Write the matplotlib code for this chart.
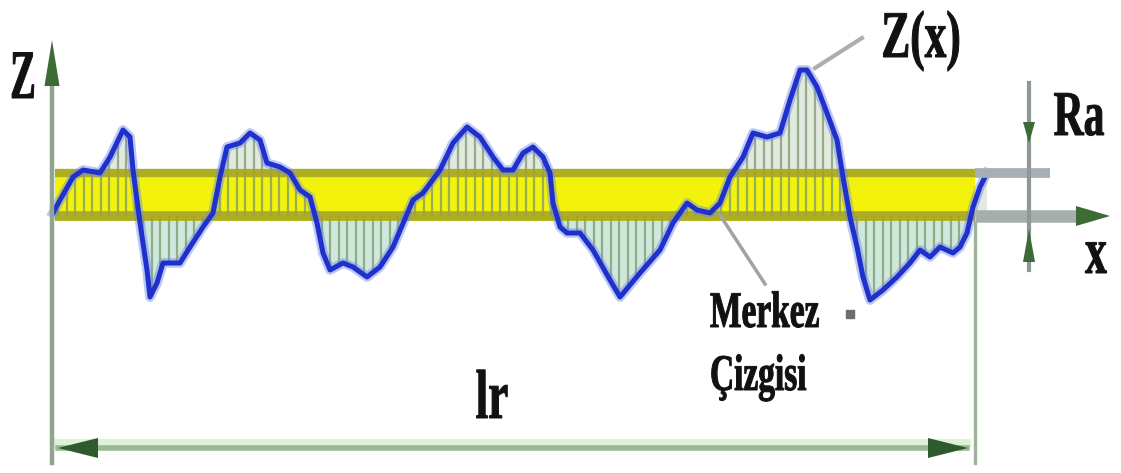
import numpy as np
import matplotlib
matplotlib.use("Agg")
import matplotlib.pyplot as plt
from matplotlib import font_manager as fm
from matplotlib.patheffects import AbstractPathEffect
from matplotlib.transforms import Affine2D

# profile trace (horizontal position, height), drawing units
profile_x = [53, 60, 73, 83, 100, 110, 123, 130, 133, 140, 147, 150, 157, 163, 180, 190,
             203, 213, 220, 227, 240, 250, 260, 267, 280, 290, 300, 310, 317, 323, 330, 343,
             353, 367, 380, 393, 413, 423, 440, 453, 467, 480, 493, 503, 513, 523, 533, 543,
             550, 553, 560, 567, 580, 593, 610, 620, 640, 660, 673, 687, 697, 710, 720, 730,
             743, 753, 767, 780, 790, 800, 807, 817, 827, 837, 843, 850, 857, 863, 870, 883,
             897, 910, 920, 930, 940, 953, 960, 967, 973, 980, 987]
profile_z = [213, 200, 177, 170, 173, 157, 130, 137, 170, 223, 270, 297, 283, 263, 263, 247,
             227, 213, 177, 147, 143, 133, 140, 163, 167, 173, 190, 197, 223, 253, 270, 263,
             267, 277, 267, 247, 200, 193, 170, 143, 127, 137, 157, 170, 170, 153, 147, 157,
             173, 203, 227, 233, 233, 250, 280, 297, 273, 250, 223, 203, 210, 213, 203, 177,
             157, 133, 137, 133, 100, 70, 70, 87, 113, 140, 177, 217, 247, 277, 300, 290,
             277, 263, 250, 257, 247, 253, 247, 233, 207, 187, 173]

center_line = 216      # mean line (x axis)
ra_line = 173          # mean + Ra
x_start, x_end = 52, 975
lr_level = 448

W, H = 1121, 473

serif_bold = fm.FontProperties(fname=fm.findfont(
    fm.FontProperties(family=["Liberation Serif", "DejaVu Serif"], weight="bold")))


class Squeeze(AbstractPathEffect):
    """Narrow the glyphs horizontally around the text anchor, with a thin outline."""

    def __init__(self, ax, x, sx, stroke=0.7):
        super().__init__()
        self.ax, self.x, self.sx, self.stroke = ax, x, sx, stroke

    def draw_path(self, renderer, gc, tpath, affine, rgbFace=None):
        x0 = self.ax.transData.transform((self.x, 0))[0]
        sq = Affine2D().translate(-x0, 0).scale(self.sx, 1).translate(x0, 0)
        gc0 = renderer.new_gc()
        gc0.copy_properties(gc)
        gc0.set_linewidth(self.stroke)
        gc0.set_foreground(rgbFace)
        gc0.set_joinstyle("round")
        renderer.draw_path(gc0, tpath, affine + sq, rgbFace)
        gc0.restore()


fig = plt.figure(figsize=(W / 100, H / 100), dpi=100)
ax = fig.add_axes([0, 0, 1, 1])
ax.set_xlim(0, W)
ax.set_ylim(H, 0)
ax.axis("off")

px = np.array(profile_x, float)
pz = np.array(profile_z, float)


def head(tip, base, width, color="#3c6b36"):
    dx, dy = tip[0] - base[0], tip[1] - base[1]
    length = np.hypot(dx, dy)
    ax.arrow(base[0], base[1], dx, dy, width=0.1, head_width=width, head_length=length,
             length_includes_head=True, color=color, lw=0, zorder=8)


def label(x, y, s, size, sx=0.65, ha="center"):
    fp = serif_bold.copy()
    fp.set_size(size)
    ax.text(x, y, s, fontproperties=fp, ha=ha, va="baseline", color="#111111", zorder=10,
            path_effects=[Squeeze(ax, x, sx)])


# shaded area between profile and mean line
ax.fill_between(px, pz, center_line, where=pz <= center_line, interpolate=True,
                color="#e2e9df", lw=0, zorder=1)
ax.fill_between(px, pz, center_line, where=pz >= center_line, interpolate=True,
                color="#cfe8dc", lw=0, zorder=1)

# Ra band
ax.fill_between([x_start + 3, x_end], ra_line - 4, center_line + 5, color="#f2f20c", lw=0, zorder=2)
ax.plot([x_start + 3, x_end], [ra_line, ra_line], color="#a3a22a", lw=6, alpha=0.85,
        solid_capstyle="butt", zorder=4)
ax.plot([x_start + 3, x_end], [center_line, center_line], color="#a3a22a", lw=7, alpha=0.85,
        solid_capstyle="butt", zorder=4)

# ordinates from mean line to profile
hx = np.arange(58, x_end - 2, 8.5)
hz = np.interp(hx, px, pz)
ax.vlines(hx, hz, center_line, color="#7a9a6c", lw=1.6, alpha=0.75, zorder=3)

# profile
ax.plot(px, pz, color="#6f86ea", lw=7, alpha=0.45, solid_joinstyle="round", zorder=5)
ax.plot(px, pz, color="#1f30cc", lw=3.6, solid_joinstyle="round", zorder=6)

# Z axis and sampling-length boundaries
ax.plot([x_start, x_start], [70, 463], color="#8fa58c", lw=3.2, zorder=7)
head((x_start, 40), (x_start, 86), 15)
ax.plot([x_end, x_end], [222, 463], color="#9fb39c", lw=2.4, zorder=7)

# x axis and Ra reference extension
ax.plot([x_end, 1082], [center_line, center_line], color="#a7aeae", lw=9, solid_capstyle="butt", zorder=7)
ax.plot([x_end, 1050], [ra_line, ra_line], color="#a8aeb5", lw=7, solid_capstyle="butt", zorder=7)
head((1110, center_line), (1076, center_line), 20)

# Ra dimension
ax.plot([1029, 1029], [83, 270], color="#8f9894", lw=3, zorder=7)
head((1029, 143), (1029, 122), 12)
head((1029, 229), (1029, 262), 12)

# lr dimension
ax.plot([x_start + 6, x_end - 8], [lr_level - 5, lr_level - 5], color="#ddf1d6", lw=6, zorder=6)
ax.plot([x_start + 6, x_end - 8], [lr_level, lr_level], color="#9ab897", lw=4, zorder=7)
head((58, lr_level), (98, lr_level), 20, "#2f5a2c")
head((968, lr_level), (928, lr_level), 20, "#2f5a2c")

# leader lines
ax.plot([815, 862], [68, 38], color="#aab0ac", lw=3, zorder=4)
ax.plot([720, 765], [215, 284], color="#9ea49f", lw=2.5, zorder=4)
ax.plot([850], [314], marker="s", ms=6, color="#6d6d6d", zorder=8)

# labels
label(23, 98, "Z", 50, sx=0.55)
label(921, 57, "Z(x)", 48)
label(1079, 135, "Ra", 46)
label(1096, 273, "x", 48)
label(710, 327, "Merkez", 37, ha="left")
label(710, 390, "Çizgisi", 37, ha="left")
label(492, 418, "lr", 50)

fig.savefig("out.png", dpi=100, facecolor="white")
